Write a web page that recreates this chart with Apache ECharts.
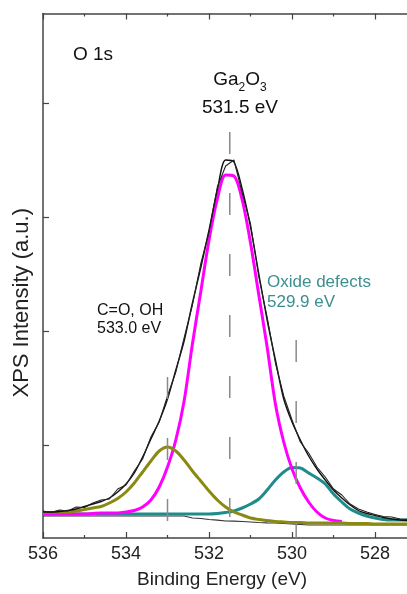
<!DOCTYPE html>
<html>
<head>
<meta charset="utf-8">
<script src="https://cdn.jsdelivr.net/npm/echarts@6.0.0/dist/echarts.min.js"></script>
<style>
  html, body { margin: 0; padding: 0; background: #ffffff; }
  #chart { width: 407px; height: 594px; }
</style>
</head>
<body>
<div id="chart"></div>
<script>
// Binding energy grid (eV)
const energy = [536.0,535.8,535.6,535.4,535.2,535.0,534.8,534.6,534.4,534.2,
                534.0,533.8,533.6,533.4,533.2,533.0,532.8,532.6,532.4,532.2,
                532.0,531.8,531.6,531.4,531.2,531.0,530.8,530.6,530.4,530.2,
                530.0,529.8,529.6,529.4,529.2,529.0,528.8,528.6,528.4,528.2,
                528.0,527.8,527.6,527.4,527.2];
// Measured O 1s spectrum (a.u.)
const rawData = [480,465,490,480,520,515,560,590,600,700,
                 740,880,1000,1220,1370,1630,1870,2210,2540,2950,
                 3270,3720,3930,3990,3660,3350,2820,2420,1960,1630,
                 1390,1170,1060,920,820,700,640,550,500,470,
                 445,425,420,400,395];
// Fit envelope
const fitEnvelope = [470,470,475,485,500,525,550,575,610,670,
                     750,860,1020,1200,1380,1600,1890,2180,2560,2910,
                     3290,3690,3990,3970,3700,3320,2850,2390,1990,1600,
                     1370,1190,1030,900,790,690,610,540,485,455,
                     435,415,400,390,385];
// Ga2O3 component (531.5 eV)
const ga2o3Peak = [450,450,450,450,450,450,455,460,460,460,
                   470,485,520,590,720,920,1190,1580,2150,2670,
                   3190,3600,3840,3830,3590,3160,2640,2120,1550,1170,
                   900,710,570,470,410,385,375,null,null,null,
                   null,null,null,null,null];
// C=O, OH component (533.0 eV)
const coohPeak = [465,465,470,470,480,495,510,525,560,605,
                  670,760,870,980,1080,1120,1080,990,880,780,
                  680,590,520,470,440,410,395,385,375,370,
                  365,365,360,360,360,360,360,355,355,355,
                  350,350,350,350,350];
// Oxide defects component (529.9 eV)
const defectPeak = [450,450,450,450,450,450,450,450,450,450,
                    450,450,450,450,450,450,450,450,450,450,
                    450,455,465,480,510,550,600,690,790,870,
                    915,910,860,810,750,650,570,500,460,430,
                    410,395,390,390,390];
// Background
const background = [430,430,430,430,430,430,430,430,430,430,
                    430,430,430,430,430,430,430,430,410,405,
                    395,388,380,378,375,370,365,362,360,355,
                    350,345,340,340,340,340,340,340,340,340,
                    340,340,340,340,340];
// Peak position markers
const markerEnergy = [531.5, 533.0, 529.9];
const markerTop = [4270, 1820, 2190];
const markerBottom = [420, 370, 212];

// Axis ranges / ticks
const xRange = { left: 536, right: 527.23 };
const xTickRange = { min: 528, max: 536, interval: 2 };
const yRange = { min: 210, max: 5455 };
const yTickRange = { min: 1140, max: 4560, interval: 1140 };

const FONT = "'Liberation Sans', Arial, sans-serif";
const axisColor = '#444';

function pairs(ys) { return energy.map((e, i) => [e, ys[i]]); }

const series = [
  { name: 'Background', data: pairs(background), color: '#333333', width: 1.2, smooth: false, z: 2 },
  { name: 'Oxide defects', data: pairs(defectPeak), color: '#1f8c8c', width: 3, smooth: 0.3, z: 3 },
  { name: 'Ga2O3', data: pairs(ga2o3Peak), color: '#ff00ff', width: 3, smooth: 0.3, z: 4 },
  { name: 'C=O, OH', data: pairs(coohPeak), color: '#8a8a12', width: 3, smooth: 0.3, z: 5 },
  { name: 'Fit', data: pairs(fitEnvelope), color: '#111111', width: 1.4, smooth: 0.3, z: 6 },
  { name: 'Data', data: pairs(rawData), color: '#222222', width: 1.1, smooth: false, z: 7 }
].map(s => ({
  type: 'line', name: s.name, data: s.data, showSymbol: false, symbol: 'none',
  xAxisIndex: 0, yAxisIndex: 0,
  smooth: s.smooth, connectNulls: false, z: s.z,
  lineStyle: { color: s.color, width: s.width }, itemStyle: { color: s.color },
  silent: true
}));

markerEnergy.forEach((e, i) => {
  series.push({
    type: 'line', name: 'marker' + i, symbol: 'none', showSymbol: false, silent: true, z: 8,
    xAxisIndex: 0, yAxisIndex: 0,
    data: [[e, markerTop[i]], [e, markerBottom[i]]],
    lineStyle: { color: '#8a8a8a', width: 1.5, type: [22, 39] }
  });
});

const lineOnly = {
  axisLine: { show: true, onZero: false, lineStyle: { color: axisColor, width: 1.5 } },
  axisTick: { show: false }, axisLabel: { show: false }, splitLine: { show: false }
};
const ticksOnly = {
  axisLine: { show: false, onZero: false },
  axisTick: { show: true, inside: true, length: 6, lineStyle: { color: axisColor, width: 1.2 } },
  splitLine: { show: false }, minorSplitLine: { show: false }
};

const chart = echarts.init(document.getElementById('chart'), null, { renderer: 'canvas' });

chart.setOption({
  animation: false,
  backgroundColor: '#ffffff',
  textStyle: { fontFamily: FONT },
  grid: [
    { left: 43, top: 13.5, right: 0, bottom: 56 },            // plot area
    { left: 43, top: 13.5, width: 332, bottom: 56 },          // x tick positions 536..528
    { left: 43, top: 103, right: 0, bottom: 149 }             // y tick positions
  ],
  xAxis: [
    Object.assign({ type: 'value', gridIndex: 0, position: 'bottom', inverse: true,
      min: xRange.right, max: xRange.left,
      name: 'Binding Energy (eV)', nameLocation: 'middle', nameGap: 32,
      nameTextStyle: { fontSize: 19, color: '#222', fontFamily: FONT, padding: [0, 6, 0, 0] } }, lineOnly),
    Object.assign({ type: 'value', gridIndex: 0, position: 'top', inverse: true,
      min: xRange.right, max: xRange.left }, lineOnly),
    Object.assign({ type: 'value', gridIndex: 1, position: 'bottom', inverse: true,
      min: xTickRange.min, max: xTickRange.max, interval: xTickRange.interval,
      minorTick: { show: true, splitNumber: 2, length: 3, lineStyle: { color: axisColor, width: 1.2 } },
      axisLabel: { show: true, fontSize: 18, color: '#222', margin: 7, fontFamily: FONT } }, ticksOnly),
    Object.assign({ type: 'value', gridIndex: 1, position: 'top', inverse: true,
      min: xTickRange.min, max: xTickRange.max, interval: xTickRange.interval,
      minorTick: { show: true, splitNumber: 2, length: 3, lineStyle: { color: axisColor, width: 1.2 } },
      axisLabel: { show: false } }, ticksOnly),
    { type: 'value', gridIndex: 2, show: false, min: 0, max: 1 }
  ],
  yAxis: [
    Object.assign({ type: 'value', gridIndex: 0, position: 'left', min: yRange.min, max: yRange.max,
      name: 'XPS Intensity (a.u.)', nameLocation: 'middle', nameGap: 10, nameRotate: 90,
      nameTextStyle: { fontSize: 22, color: '#222', fontFamily: FONT, padding: [0, 54, 0, 0] } }, lineOnly),
    { type: 'value', gridIndex: 1, show: false, min: 0, max: 1 },
    Object.assign({ type: 'value', gridIndex: 2, position: 'left',
      min: yTickRange.min, max: yTickRange.max, interval: yTickRange.interval,
      axisLabel: { show: false } }, ticksOnly)
  ],
  graphic: [
    { type: 'text', left: 73, top: 45, style: { text: 'O 1s', font: '19px ' + FONT, fill: '#111' } },
    { type: 'text', x: 240, y: 80, style: {
        text: 'Ga{s|2}O{s|3}', font: '19px ' + FONT, fill: '#111', align: 'center', verticalAlign: 'middle',
        lineHeight: 28,
        rich: { s: { fontSize: 12, fontFamily: FONT, fill: '#111', verticalAlign: 'bottom', lineHeight: 28 } }
      } },
    { type: 'text', x: 240, y: 108, style: { text: '531.5 eV', font: '19px ' + FONT, fill: '#111', align: 'center', verticalAlign: 'middle' } },
    { type: 'text', x: 97, y: 311, style: { text: 'C=O, OH', font: '16px ' + FONT, fill: '#111', align: 'left', verticalAlign: 'middle' } },
    { type: 'text', x: 97, y: 329, style: { text: '533.0 eV', font: '16px ' + FONT, fill: '#111', align: 'left', verticalAlign: 'middle' } },
    { type: 'text', x: 267, y: 282, style: { text: 'Oxide defects', font: '17px ' + FONT, fill: '#3c8f8f', align: 'left', verticalAlign: 'middle' } },
    { type: 'text', x: 267, y: 302, style: { text: '529.9 eV', font: '17px ' + FONT, fill: '#3c8f8f', align: 'left', verticalAlign: 'middle' } }
  ],
  series: series
});
</script>
</body>
</html>
